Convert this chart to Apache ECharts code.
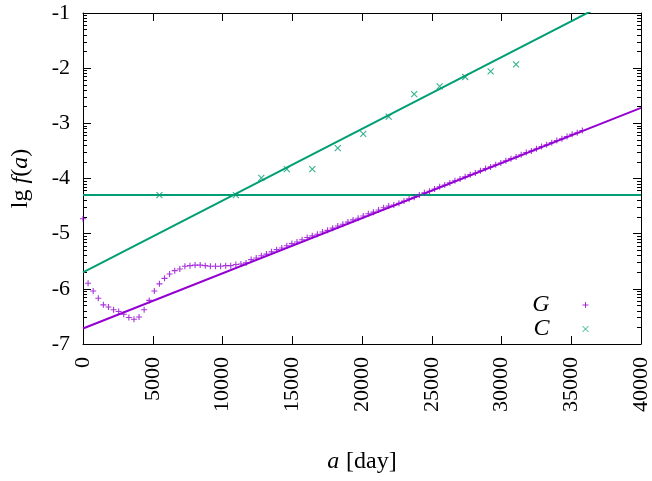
<!DOCTYPE html>
<html>
<head>
<meta charset="utf-8">
<script src="https://cdn.jsdelivr.net/npm/echarts@6/dist/echarts.min.js"></script>
<style>html,body{margin:0;padding:0;background:#fff}#c{width:652px;height:481px}</style>
</head>
<body>
<div id="c"></div>
<script>
// ---- data ----
const xTicks = [0, 5000, 10000, 15000, 20000, 25000, 30000, 35000, 40000];
const yTicks = [-7, -6, -5, -4, -3, -2, -1];

const gDays = [0,365,730,1096,1461,1826,2192,2557,2922,3287,3653,4018,4383,4748,5114,5479,5844,6209,6575,6940,7305,7670,8036,8401,8766,9131,9497,9862,10227,10592,10958,11323,11688,12053,12419,12784,13149,13514,13880,14245,14610,14975,15341,15706,16071,16436,16802,17167,17532,17897,18263,18628,18993,19358,19724,20089,20454,20819,21185,21550,21915,22280,22646,23011,23376,23741,24107,24472,24837,25202,25568,25933,26298,26663,27029,27394,27759,28124,28490,28855,29220,29585,29951,30316,30681,31046,31412,31777,32142,32507,32873,33238,33603,33968,34334,34699,35064,35429,35795];
const gValues = [-4.73,-5.90,-6.04,-6.17,-6.29,-6.33,-6.38,-6.41,-6.46,-6.52,-6.55,-6.51,-6.38,-6.21,-6.04,-5.91,-5.81,-5.73,-5.67,-5.64,-5.59,-5.58,-5.57,-5.57,-5.58,-5.59,-5.59,-5.59,-5.58,-5.58,-5.56,-5.55,-5.53,
 -5.47,-5.44,-5.40,-5.37,-5.33,-5.29,-5.26,-5.22,-5.18,-5.15,-5.11,-5.07,-5.04,
 -5.01,-4.97,-4.94,-4.90,-4.86,-4.83,-4.79,-4.75,-4.72,-4.68,-4.64,-4.61,-4.57,-4.53,-4.50,
 -4.48,-4.45,-4.41,-4.37,-4.34,-4.30,-4.26,-4.23,-4.19,-4.15,-4.12,-4.08,-4.04,-4.01,-3.97,-3.93,-3.90,-3.86,-3.82,-3.79,
 -3.75,-3.72,-3.68,-3.64,-3.61,-3.57,-3.53,-3.50,-3.46,-3.42,-3.39,-3.35,-3.31,-3.28,-3.24,-3.20,-3.17,-3.13];

const cDays = [5479,10958,12784,14610,16436,18263,20089,21915,23741,25568,27394,29220,31046];
const cValues = [-4.30,-4.30,-3.99,-3.83,-3.83,-3.45,-3.19,-2.88,-2.47,-2.33,-2.16,-2.06,-1.93];

const gFitLine = [[0, -6.72], [40000, -2.72]];
const cFitLine = [[0, -5.70], [40000, -0.50]];
const cLevelLine = [[0, -4.30], [40000, -4.30]];

// ---- styling ----
const PURPLE = '#9400d3';
const GREEN = '#009e73';
const FONT = 'Liberation Serif';

const minorY = [];
for (let d = -7; d < -1; d++) for (let k = 2; k <= 9; k++) minorY.push(d + Math.log10(k));

function zip(xs, ys) { return xs.map((x, i) => [x, ys[i]]); }

const plusPath = 'path://M5,0L5,10M0,5L10,5';
const crossPath = 'path://M0,0L10,10M10,0L0,10';

const axisLine = { show: true, lineStyle: { color: '#000', width: 1 } };

const chart = echarts.init(document.getElementById('c'), null, { renderer: 'canvas' });
chart.setOption({
  animation: false,
  backgroundColor: '#fff',
  grid: { left: 83, right: 9, top: 13, bottom: 137, containLabel: false },
  xAxis: [
    {
      type: 'value', position: 'bottom', min: 0, max: 40000, interval: 5000,
      axisLine: axisLine,
      axisTick: { show: true, inside: true, length: 8, lineStyle: { color: '#000' } },
      axisLabel: { rotate: 90, margin: 13, fontFamily: FONT, fontSize: 22, color: '#000',
        customValues: xTicks, formatter: v => String(v) },
      splitLine: { show: false },
      name: '{i|a}  {r|[day]}', nameLocation: 'middle', nameGap: 106,
      nameTextStyle: { rich: {
        i: { fontFamily: FONT, fontStyle: 'italic', fontSize: 24, color: '#000' },
        r: { fontFamily: FONT, fontSize: 24, color: '#000' } } }
    },
    {
      type: 'value', position: 'top', min: 0, max: 40000, interval: 5000,
      axisLine: axisLine,
      axisTick: { show: true, inside: true, length: 8, lineStyle: { color: '#000' } },
      axisLabel: { show: false }, splitLine: { show: false }
    }
  ],
  yAxis: [
    {
      type: 'value', position: 'left', min: -7, max: -1, interval: 1,
      axisLine: axisLine,
      axisTick: { show: true, inside: true, length: 8, lineStyle: { color: '#000' } },
      axisLabel: { margin: 13, fontFamily: FONT, fontSize: 22, color: '#000',
        customValues: yTicks, formatter: v => String(v) },
      splitLine: { show: false },
      name: '{r|lg }{i|f}{r|(}{i|a}{r|)}', nameLocation: 'middle', nameGap: 50,
      nameTextStyle: { rich: {
        i: { fontFamily: FONT, fontStyle: 'italic', fontSize: 24, color: '#000' },
        r: { fontFamily: FONT, fontSize: 24, color: '#000' } } }
    },
    {
      type: 'value', position: 'left', min: -7, max: -1,
      axisLine: { show: false },
      axisTick: { show: true, inside: true, length: 4, customValues: minorY, lineStyle: { color: '#000' } },
      axisLabel: { show: false }, splitLine: { show: false }
    },
    {
      type: 'value', position: 'right', min: -7, max: -1, interval: 1,
      axisLine: axisLine,
      axisTick: { show: true, inside: true, length: 8, lineStyle: { color: '#000' } },
      axisLabel: { show: false }, splitLine: { show: false }
    },
    {
      type: 'value', position: 'right', min: -7, max: -1,
      axisLine: { show: false },
      axisTick: { show: true, inside: true, length: 4, customValues: minorY, lineStyle: { color: '#000' } },
      axisLabel: { show: false }, splitLine: { show: false }
    }
  ],
  legend: {
    orient: 'vertical', align: 'right', right: 58, top: 288,
    itemWidth: 6, itemHeight: 6, itemGap: 0,
    data: [{ name: 'G', icon: plusPath }, { name: 'C', icon: crossPath }],
    itemStyle: { borderWidth: 1 },
    textStyle: { fontFamily: FONT, fontStyle: 'italic', fontSize: 24, color: '#000',
      lineHeight: 24, padding: [0, 28, 0, 0] },
    selectedMode: false
  },
  series: [
    {
      name: 'G', type: 'scatter', data: zip(gDays, gValues),
      symbol: plusPath, symbolSize: 6,
      itemStyle: { color: PURPLE, borderColor: PURPLE, borderWidth: 1.1 },
      clip: true, z: 3
    },
    {
      name: 'gfit', type: 'line', data: gFitLine, showSymbol: false, symbol: 'none',
      lineStyle: { color: PURPLE, width: 2 }, clip: true, silent: true, z: 2
    },
    {
      name: 'C', type: 'scatter', data: zip(cDays, cValues),
      symbol: crossPath, symbolSize: 6,
      itemStyle: { color: GREEN, borderColor: GREEN, borderWidth: 1.1 },
      clip: true, z: 3
    },
    {
      name: 'cfit', type: 'line', data: cFitLine, showSymbol: false, symbol: 'none',
      lineStyle: { color: GREEN, width: 2 }, clip: true, silent: true, z: 2
    },
    {
      name: 'clevel', type: 'line', data: cLevelLine, showSymbol: false, symbol: 'none',
      lineStyle: { color: GREEN, width: 2 }, clip: true, silent: true, z: 2
    }
  ]
});
</script>
</body>
</html>
